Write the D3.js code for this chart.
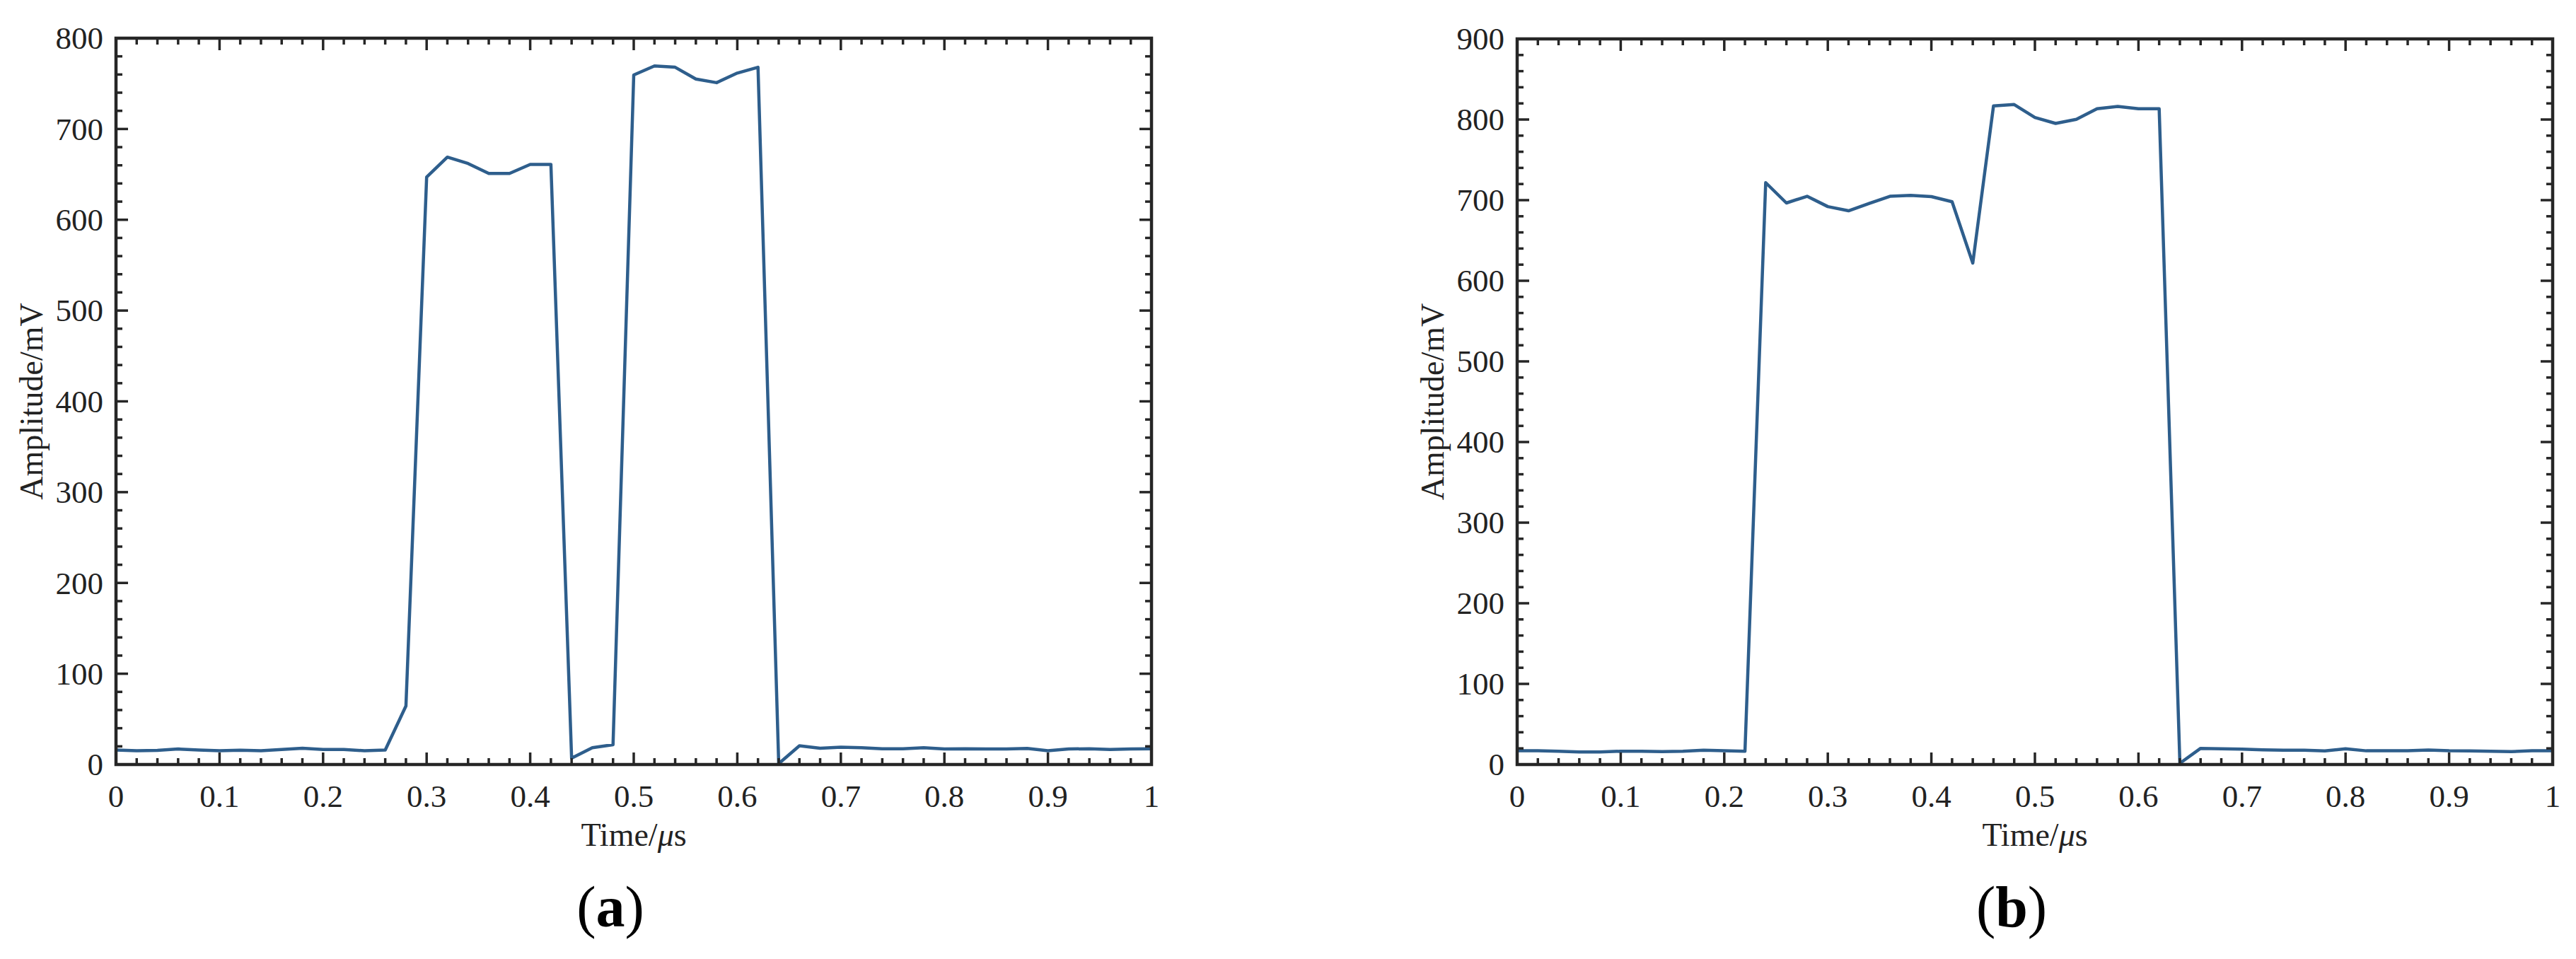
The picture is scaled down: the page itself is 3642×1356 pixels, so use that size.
<!DOCTYPE html>
<html>
<head>
<meta charset="utf-8">
<script src="https://cdn.jsdelivr.net/npm/d3@7/dist/d3.min.js"></script>
<style>
  body { margin: 0; background: #fff; }
  text { font-family: "Liberation Serif", "Times New Roman", serif; fill: #222; }
</style>
</head>
<body>
<svg id="chart" width="3642" height="1356" viewBox="0 0 3642 1356"></svg>
<script>
// sample times (us)
const times = [0, 0.02, 0.04, 0.06, 0.08, 0.1, 0.12, 0.14, 0.16, 0.18, 0.2, 0.22, 0.24, 0.26, 0.28,
  0.3, 0.32, 0.34, 0.36, 0.38, 0.4, 0.42, 0.44, 0.46, 0.48, 0.5, 0.52, 0.54, 0.56, 0.58, 0.6,
  0.62, 0.64, 0.66, 0.68, 0.7, 0.72, 0.74, 0.76, 0.78, 0.8, 0.82, 0.84, 0.86, 0.88, 0.9, 0.92,
  0.94, 0.96, 0.98, 1];

// panel (a) amplitude, mV
const ampA = [16, 15.2, 15.5, 17.1, 16, 15.2, 15.7, 15.2, 16.6, 18, 16.6, 16.6, 15.2, 16, 64.4,
  647, 669, 662, 651, 651, 661, 661, 7, 18.5, 21.8, 759.5, 769.4, 768, 755, 751, 761.6,
  768, 1, 20.7, 18, 19, 18.5, 17.4, 17.4, 18.5, 17.1, 17.4, 17.1, 17.1, 17.7, 15.2, 17.1,
  17.4, 16.6, 17.1, 17.4];

// panel (b) amplitude, mV
const ampB = [17, 17, 16.5, 15.5, 15.5, 16.5, 16.5, 16.1, 16.5, 17.7, 17, 16.5, 721.7, 696.5, 704.8,
  692, 686.8, 696, 704.8, 706, 704.4, 698, 622, 816.8, 818.6, 802.5, 795.2, 800.2, 813.3,
  816.2, 813.3, 813.3, 1.5, 20, 19.6, 19, 18.3, 17.7, 17.7, 16.8, 19.6, 17, 17, 17, 18, 17,
  16.8, 16.5, 16.1, 17, 17];

const xTicks = [0, 0.1, 0.2, 0.3, 0.4, 0.5, 0.6, 0.7, 0.8, 0.9, 1];
const yTicksA = [0, 100, 200, 300, 400, 500, 600, 700, 800];
const yTicksB = [0, 100, 200, 300, 400, 500, 600, 700, 800, 900];

const svg = d3.select("#chart");
const axisColor = "#262626";
const lineColor = "#2e5e8c";

function panel(cfg) {
    const x = d3.scaleLinear().domain([0, 1]).range([cfg.left, cfg.right]);
    const y = d3.scaleLinear().domain([0, cfg.ymax]).range([cfg.bottom, cfg.top]);
    const g = svg.append("g");

    // data line
    const pts = times.map((t, i) => [t, cfg.values[i]]);
    g.append("path")
        .datum(pts)
        .attr("fill", "none")
        .attr("stroke", lineColor)
        .attr("stroke-width", 4.5)
        .attr("stroke-linejoin", "round")
        .attr("d", d3.line().x(d => x(d[0])).y(d => y(d[1])));

    // ticks, inward on all four sides
    const minorX = d3.range(0, 51).map(i => i / 50);
    const minorY = d3.range(0, cfg.ymax / 20 + 1).map(i => i * 20);
    const ticks = g.append("g").attr("stroke", axisColor).attr("stroke-width", 3.5);
    minorX.forEach(v => {
        const major = xTicks.some(m => Math.abs(m - v) < 1e-9);
        const len = major ? 17 : 9;
        ticks.append("line").attr("x1", x(v)).attr("x2", x(v)).attr("y1", y(0)).attr("y2", y(0) - len);
        ticks.append("line").attr("x1", x(v)).attr("x2", x(v)).attr("y1", y(cfg.ymax)).attr("y2", y(cfg.ymax) + len);
    });
    minorY.forEach(v => {
        const major = v % 100 === 0;
        const len = major ? 17 : 9;
        ticks.append("line").attr("y1", y(v)).attr("y2", y(v)).attr("x1", x(0)).attr("x2", x(0) + len);
        ticks.append("line").attr("y1", y(v)).attr("y2", y(v)).attr("x1", x(1)).attr("x2", x(1) - len);
    });

    // frame
    g.append("rect")
        .attr("x", x(0)).attr("y", y(cfg.ymax))
        .attr("width", x(1) - x(0)).attr("height", y(0) - y(cfg.ymax))
        .attr("fill", "none").attr("stroke", axisColor).attr("stroke-width", 4.5);

    // tick labels
    g.selectAll(".xl").data(xTicks).enter().append("text")
        .attr("x", d => x(d)).attr("y", y(0) + 60)
        .attr("text-anchor", "middle").attr("font-size", 45)
        .text(d => d3.format("~g")(d));
    g.selectAll(".yl").data(cfg.yTicks).enter().append("text")
        .attr("x", x(0) - 18).attr("y", d => y(d))
        .attr("dy", "0.34em")
        .attr("text-anchor", "end").attr("font-size", 45)
        .text(d => d);

    // axis titles
    const xt = g.append("text")
        .attr("x", (x(0) + x(1)) / 2).attr("y", y(0) + 115)
        .attr("text-anchor", "middle").attr("font-size", 46);
    xt.append("tspan").text("Time/");
    xt.append("tspan").attr("font-style", "italic").text("μ");
    xt.append("tspan").text("s");

    g.append("text")
        .attr("transform", `translate(${x(0) - 104},${(y(0) + y(cfg.ymax)) / 2}) rotate(-90)`)
        .attr("text-anchor", "middle").attr("font-size", 46)
        .text("Amplitude/mV");

    // panel label
    const lab = g.append("text")
        .attr("x", (x(0) + x(1)) / 2 - 33).attr("y", 1310)
        .attr("text-anchor", "middle").attr("font-size", 82)
        .style("fill", "#000");
    lab.append("tspan").text("(");
    lab.append("tspan").attr("font-weight", "bold").text(cfg.label);
    lab.append("tspan").text(")");
}

panel({ left: 164, right: 1628, top: 54, bottom: 1081, ymax: 800, values: ampA, yTicks: yTicksA, label: "a" });
panel({ left: 2145, right: 3609, top: 55, bottom: 1081, ymax: 900, values: ampB, yTicks: yTicksB, label: "b" });
</script>
</body>
</html>
